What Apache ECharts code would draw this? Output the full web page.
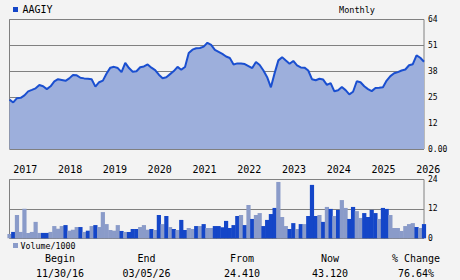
<!DOCTYPE html>
<html>
<head>
<meta charset="utf-8">
<script src="https://cdn.jsdelivr.net/npm/echarts@6/dist/echarts.min.js"></script>
<style>
html,body{margin:0;padding:0;background:#f3f3f3;}
#c{width:460px;height:280px;}
</style>
</head>
<body>
<div id="c"></div>
<script>
// ---- data (monthly, 11/30/16 .. 03/05/26) ----
const startYear = 2016.915;   // 11/30/16
const endYear = 2026.173;     // 03/05/26
const yearLabels = [2017, 2018, 2019, 2020, 2021, 2022, 2023, 2024, 2025, 2026];
const priceTicks = [0, 12.8, 25.6, 38.4, 51.2, 64];
const volumeTicks = [0, 12, 24];

const prices = [
  24.4, 23.0, 25.1, 25.3, 26.5, 28.5, 29.2, 30.0, 31.6, 31.0, 29.6, 31.0,
  33.4, 34.5, 34.1, 33.7, 34.9, 36.6, 36.4, 35.2, 34.9, 34.7, 34.5, 30.8,
  33.0, 33.8, 37.3, 40.2, 40.6, 40.0, 38.0, 42.6, 40.0, 38.2, 38.4, 40.4,
  40.8, 41.8, 40.2, 39.0, 36.7, 35.0, 35.5, 37.0, 38.5, 40.6, 39.2, 40.5,
  47.4, 49.1, 49.8, 49.9, 50.6, 52.5, 51.5, 49.0, 48.0, 47.0, 45.7, 45.0,
  41.8, 42.3, 42.2, 42.0, 41.0, 40.0, 43.0, 41.5, 38.8, 35.5, 30.5, 37.5,
  43.8, 45.4, 43.7, 42.1, 43.5, 41.3, 40.3, 40.2, 38.8, 34.5, 34.0, 34.7,
  34.3, 31.7, 32.6, 28.5, 29.0, 30.6, 29.1, 27.0, 28.3, 33.5, 33.0, 31.0,
  29.6, 28.6, 30.2, 30.3, 30.5, 33.8, 36.0, 37.4, 38.0, 38.8, 39.3, 41.4,
  41.9, 46.3, 45.1, 43.12
];

const volumes = [
  1.8, 2.6, 9.5, 2.6, 12.1, 2.2, 2.6, 6.7, 2.2, 2.2, 2.2, 2.6,
  5.0, 3.9, 5.0, 5.4, 3.1, 3.5, 4.6, 4.6, 2.6, 3.1, 5.0, 5.4,
  4.6, 10.7, 5.8, 3.4, 3.1, 5.4, 3.0, 2.6, 2.6, 3.8, 3.8, 4.6,
  5.4, 3.5, 3.8, 3.4, 9.5, 5.8, 9.1, 4.6, 3.8, 3.4, 7.5, 3.4,
  4.2, 3.8, 5.0, 5.0, 5.8, 4.2, 4.2, 5.0,
  5.0, 4.5, 7.1, 4.2, 5.4, 9.1, 9.5, 5.4, 13.6, 7.9, 9.5, 10.3,
  5.0, 7.5, 9.9, 12.4, 23.0, 8.7, 5.0, 3.8, 6.2, 3.8, 5.8, 5.8,
  9.1, 21.8, 9.1, 9.5, 6.7, 12.8, 12.0, 9.1, 11.6, 15.6, 12.4, 7.9,
  12.8, 11.1, 8.3, 10.3, 8.7, 11.6, 10.3, 7.9, 12.4, 12.0, 9.5, 4.2,
  4.2, 3.0, 5.0, 5.8, 6.2, 4.6, 4.2, 5.8
];
// 1 = dark bar, 0 = light bar
const volumeDark = [
  0,1,0,0,0,0,0,0,0,1,1,0,
  0,0,0,1,0,0,0,1,0,1,0,1,
  0,0,0,0,0,0,1,0,1,1,1,0,
  0,0,1,0,1,0,1,0,1,0,1,1,
  0,0,1,0,1,0,0,1,
  1,1,1,1,1,1,0,1,0,1,0,0,
  1,1,1,1,0,0,0,1,1,0,1,0,
  1,1,1,0,1,0,1,0,1,0,0,1,
  1,0,0,1,1,1,1,0,1,1,0,0,
  0,0,0,0,0,1,0,1
];

const stats = [
  {head: 'Begin', val: '11/30/16', x: 60},
  {head: 'End', val: '03/05/26', x: 146.5},
  {head: 'From', val: '24.410', x: 242},
  {head: 'Now', val: '43.120', x: 330},
  {head: '% Change', val: '76.64%', x: 416}
];

// ---- build ----
const n = prices.length;
const step = (endYear - startYear) / (n - 1);
const xs = prices.map((_, i) => startYear + i * step);
const priceData = prices.map((v, i) => [xs[i], v]);
const DARK = '#1446c8';
const LIGHT = '#8a9bc9';
const volData = volumes.map((v, i) => ({
  value: [xs[i], v],
  itemStyle: {color: volumeDark[i] ? DARK : LIGHT}
}));

const MONO = '"DejaVu Sans Mono", "Liberation Mono", monospace';
const chart = echarts.init(document.getElementById('c'), null, {renderer: 'svg'});

const graphics = [
  {type: 'rect', shape: {x: 13, y: 7, width: 5, height: 5}, style: {fill: DARK}},
  {type: 'text', x: 22.5, y: 9.5, style: {text: 'AAGIY', font: '10px ' + MONO, fill: '#000', verticalAlign: 'middle'}},
  {type: 'text', x: 357, y: 9.5, style: {text: 'Monthly', font: '8.5px ' + MONO, fill: '#000', align: 'center', verticalAlign: 'middle'}},
  {type: 'rect', shape: {x: 13, y: 243, width: 5, height: 5}, style: {fill: LIGHT}},
  {type: 'text', x: 20.5, y: 245.5, style: {text: 'Volume/1000', font: '8.3px ' + MONO, fill: '#000', verticalAlign: 'middle'}}
];
stats.forEach(s => {
  graphics.push({type: 'text', x: s.x, y: 258.5, style: {text: s.head, font: '10px ' + MONO, fill: '#000', align: 'center', verticalAlign: 'middle'}});
  graphics.push({type: 'text', x: s.x, y: 273.5, style: {text: s.val, font: '10px ' + MONO, fill: '#000', align: 'center', verticalAlign: 'middle'}});
});

const option = {
  backgroundColor: '#f3f3f3',
  animation: false,
  grid: [
    {left: 9.5, right: 36, top: 19.5, height: 129.5, show: true, borderColor: '#808080', borderWidth: 1, backgroundColor: 'transparent'},
    {left: 9.5, right: 36, top: 179.5, height: 58.8, show: true, borderColor: '#808080', borderWidth: 1, backgroundColor: 'transparent'}
  ],
  xAxis: [
    {
      type: 'value', gridIndex: 0, min: startYear, max: endYear,
      axisLine: {show: false}, axisTick: {show: false}, splitLine: {show: false},
      axisLabel: {
        customValues: yearLabels, align: 'left', margin: 15,
        fontFamily: MONO, fontSize: 10, color: '#000',
        formatter: v => String(Math.round(v))
      }
    },
    {
      type: 'value', gridIndex: 1, min: startYear, max: endYear,
      axisLine: {show: false}, axisTick: {show: false}, splitLine: {show: false},
      axisLabel: {show: false}
    }
  ],
  yAxis: [
    {
      type: 'value', gridIndex: 0, position: 'right', min: 0, max: 64, interval: 12.8,
      axisLine: {show: false}, axisTick: {show: false},
      splitLine: {show: true, lineStyle: {color: '#808080', width: 1}},
      axisLabel: {
        margin: 4, fontFamily: MONO, fontSize: 8, color: '#000',
        formatter: v => v === 0 ? '0.00' : String(Math.floor(v))
      }
    },
    {
      type: 'value', gridIndex: 1, position: 'right', min: 0, max: 24, interval: 12,
      axisLine: {show: false}, axisTick: {show: false},
      splitLine: {show: true, lineStyle: {color: '#808080', width: 1}},
      axisLabel: {margin: 4, fontFamily: MONO, fontSize: 8, color: '#000'}
    }
  ],
  series: [
    {
      type: 'line', xAxisIndex: 0, yAxisIndex: 0, data: priceData,
      showSymbol: false, symbol: 'none',
      lineStyle: {color: '#1a4fd0', width: 2},
      areaStyle: {color: '#9dafdc', opacity: 1}
    },
    {
      type: 'bar', xAxisIndex: 1, yAxisIndex: 1, data: volData,
      barWidth: 4.2, barGap: '-100%'
    }
  ],
  graphic: graphics
};
chart.setOption(option);
</script>
</body>
</html>
